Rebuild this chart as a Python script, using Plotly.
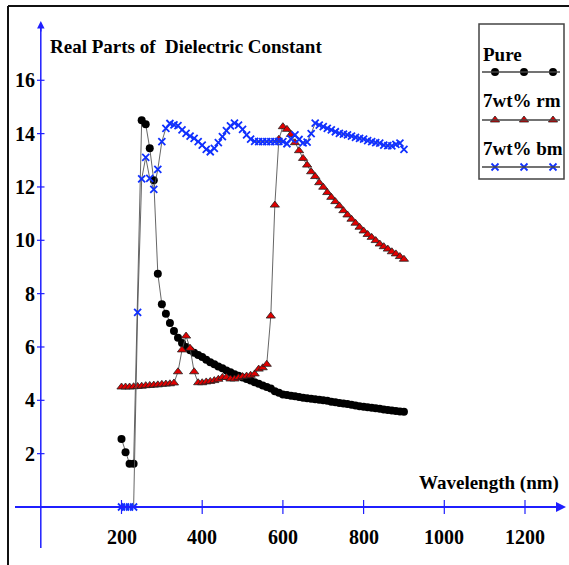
import plotly.graph_objects as go

# ---------------- data ----------------
pure_x = [200, 210, 220, 230] + list(range(250, 910, 10))
pure_y = [2.55, 2.05, 1.62, 1.62,
          14.5, 14.35, 13.45, 12.25, 8.75,
          7.6, 7.25, 6.9, 6.6, 6.35, 6.15, 6.0, 5.88, 5.78, 5.7,
          5.62, 5.52, 5.43, 5.35, 5.27, 5.2, 5.12, 5.05, 4.98, 4.92,
          4.86, 4.8, 4.74, 4.68, 4.62, 4.56, 4.5, 4.44, 4.34, 4.28,
          4.22, 4.2, 4.17, 4.15, 4.12, 4.1, 4.08, 4.06, 4.04, 4.02,
          4.0, 3.98, 3.95, 3.93, 3.9, 3.88, 3.86, 3.83, 3.81, 3.78,
          3.76, 3.74, 3.72, 3.7, 3.68, 3.66, 3.64, 3.62, 3.6, 3.58,
          3.57]

rm_x = list(range(200, 910, 10))
rm_y = [4.5, 4.5, 4.5, 4.51, 4.52, 4.53, 4.55, 4.56, 4.57, 4.58,
        4.6, 4.61, 4.62, 4.65, 5.07, 5.89, 6.41, 5.95, 5.07, 4.66,
        4.66, 4.69, 4.71, 4.74, 4.79, 4.86, 4.86, 4.8, 4.8, 4.85,
        4.89, 4.91, 4.94, 4.99, 5.17, 5.22, 5.35, 7.16, 11.32, 13.79,
        14.26, 14.16, 13.97, 13.66, 13.36, 13.07, 12.82, 12.57, 12.39, 12.16,
        11.99, 11.79, 11.61, 11.45, 11.29, 11.11, 10.95, 10.79, 10.64, 10.49,
        10.35, 10.22, 10.11, 9.99, 9.86, 9.76, 9.67, 9.57, 9.49, 9.39,
        9.29]

bm_x = list(range(200, 910, 10))
bm_y = [0, 0, 0, 0, 7.3, 12.3, 13.11, 12.32, 11.91, 12.66,
        13.7, 14.2, 14.38, 14.33, 14.3, 14.14, 14.01, 13.91, 13.82, 13.7,
        13.57, 13.41, 13.32, 13.45, 13.66, 13.89, 14.11, 14.29, 14.39, 14.32,
        14.16, 13.95, 13.79, 13.71, 13.7, 13.7, 13.7, 13.7, 13.7, 13.71,
        13.7, 13.62, 13.8, 13.95, 13.78, 13.65, 13.68, 14.0, 14.39, 14.32,
        14.26, 14.2, 14.14, 14.07, 14.01, 13.98, 13.95, 13.91, 13.86, 13.82,
        13.79, 13.74, 13.7, 13.66, 13.64, 13.57, 13.55, 13.54, 13.6, 13.64,
        13.41]

x_ticks = [200, 400, 600, 800, 1000, 1200]
x_tick_labels = ["200", "400", "600", "800", "1000", "1200"]
y_ticks = [2, 4, 6, 8, 10, 12, 14, 16]
y_tick_labels = ["2", "4", "6", "8", "10", "12", "14", "16"]

series_names = ["Pure", "7wt% rm", "7wt% bm"]
title_text = "Real Parts of \u00a0Dielectric Constant"
xlabel_text = "Wavelength (nm)"

# ---------------- layout geometry ----------------
W, H = 569, 565
PX0, SX = 40.8, 0.4035      # pixel of x=0, pixels per nm
PY0, SY = 507.0, 26.67      # pixel of y=0, pixels per unit


def xd(px):
    return (px - PX0) / SX


def yd(py):
    return (PY0 - py) / SY


AX_BLUE = "#1f1fff"
LINE_GRAY = "#555555"
FONT = dict(family="Liberation Serif", size=19, color="black", weight="bold")
TICKFONT = dict(family="Liberation Serif", size=20, color="black", weight="bold")

fig = go.Figure()

marker_styles = [
    dict(symbol="circle", size=8, color="black", line=dict(width=0)),
    dict(symbol="triangle-up", size=8, color="#e00000", line=dict(width=0.8, color="#222")),
    dict(symbol="x-thin", size=7, color="#1030ff", line=dict(width=1.8, color="#1030ff")),
]

for xs, ys, name, ms in zip([pure_x, rm_x, bm_x], [pure_y, rm_y, bm_y], series_names, marker_styles):
    fig.add_trace(go.Scatter(x=xs, y=ys, mode="lines+markers", name=name,
                             line=dict(color=LINE_GRAY, width=0.9),
                             marker=ms, cliponaxis=False, showlegend=False))

shapes = []
annotations = []

# outer frame (top and left)
shapes.append(dict(type="line", xref="paper", yref="paper", x0=8 / W, x1=1, y0=1 - 6 / H, y1=1 - 6 / H,
                   line=dict(color="#111", width=2)))
shapes.append(dict(type="line", xref="paper", yref="paper", x0=8 / W, x1=8 / W, y0=0, y1=1 - 6 / H,
                   line=dict(color="#111", width=2)))

# axes
shapes.append(dict(type="line", x0=xd(15), x1=xd(560), y0=0, y1=0, line=dict(color=AX_BLUE, width=2)))
shapes.append(dict(type="line", x0=0, x1=0, y0=yd(548), y1=yd(28), line=dict(color=AX_BLUE, width=1.5)))
annotations.append(dict(x=xd(566), y=0, ax=-12, ay=0, text="", showarrow=True, arrowhead=2,
                        arrowsize=1, arrowwidth=2, arrowcolor=AX_BLUE))
annotations.append(dict(x=0, y=yd(21), ax=0, ay=12, text="", showarrow=True, arrowhead=2,
                        arrowsize=1, arrowwidth=1.5, arrowcolor=AX_BLUE))

# ticks and tick labels
for v, t in zip(y_ticks, y_tick_labels):
    shapes.append(dict(type="line", x0=xd(37), x1=xd(44.5), y0=v, y1=v, line=dict(color=AX_BLUE, width=1.2)))
    annotations.append(dict(x=xd(37), y=v, text=t, showarrow=False, xanchor="right", yanchor="middle",
                            font=TICKFONT))
for v, t in zip(x_ticks, x_tick_labels):
    shapes.append(dict(type="line", x0=v, x1=v, y0=yd(500), y1=yd(514), line=dict(color=AX_BLUE, width=1.2)))
    annotations.append(dict(x=v, y=yd(537), text=t, showarrow=False, xanchor="center", yanchor="middle",
                            font=TICKFONT))

# title and x label
annotations.append(dict(x=xd(48), y=yd(46), text=title_text, showarrow=False, xanchor="left", yanchor="middle",
                        font=FONT))
annotations.append(dict(x=xd(561), y=yd(483), text=xlabel_text, showarrow=False, xanchor="right", yanchor="middle",
                        font=FONT))

# legend box
shapes.append(dict(type="rect", x0=xd(479), x1=xd(564), y0=yd(179), y1=yd(24),
                   line=dict(color="#444", width=1.5), fillcolor="rgba(0,0,0,0)"))
leg_text_y = [54, 100, 148]
leg_line_y = [72, 120, 167]
for name, ty, ly, ms in zip(series_names, leg_text_y, leg_line_y, marker_styles):
    annotations.append(dict(x=xd(481), y=yd(ty), text=name, showarrow=False, xanchor="left", yanchor="middle",
                            font=FONT))
    shapes.append(dict(type="line", x0=xd(482), x1=xd(560), y0=yd(ly), y1=yd(ly),
                       line=dict(color="#444", width=1.5)))
    fig.add_trace(go.Scatter(x=[xd(495), xd(524), xd(553)], y=[yd(ly)] * 3, mode="markers",
                             marker=ms, cliponaxis=False, showlegend=False, hoverinfo="skip"))

fig.update_layout(
    width=W, height=H, margin=dict(l=0, r=0, t=0, b=0),
    paper_bgcolor="white", plot_bgcolor="white",
    xaxis=dict(range=[xd(0), xd(W)], visible=False),
    yaxis=dict(range=[yd(H), yd(0)], visible=False),
    shapes=shapes, annotations=annotations, showlegend=False,
)

fig.write_html("out.html", config={"displayModeBar": False},
               post_script="document.body.style.margin='0';document.body.style.overflow='hidden';")
